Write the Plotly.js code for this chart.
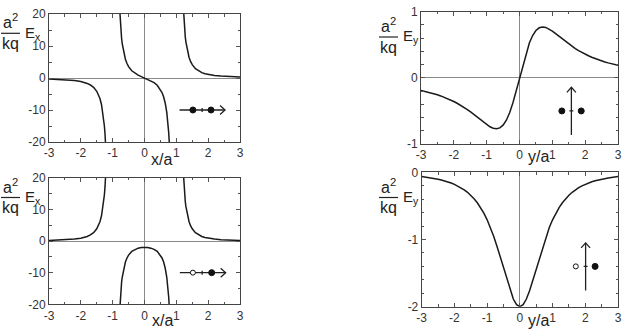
<!DOCTYPE html>
<html><head><meta charset="utf-8">
<script src="https://cdn.plot.ly/plotly-3.0.1.min.js"></script>
<style>html,body{margin:0;padding:0;background:#fff}#chart{width:633px;height:329px}</style>
</head><body><div id="chart"></div>
<script>
// ---- Top-left: two equal charges, a^2/kq * E_x along x/a ----
const tlLeftX  = [-3.0,-2.8,-2.6,-2.4,-2.2,-2.0,-1.9,-1.8,-1.7,-1.6,-1.5,-1.45,-1.4,-1.35,-1.3,-1.28,-1.26,-1.24,-1.22,-1.2];
const tlLeftE  = [-0.3125,-0.378,-0.468,-0.597,-0.792,-1.111,-1.354,-1.690,-2.178,-2.926,-4.16,-5.105,-6.424,-8.344,-11.300,-12.947,-14.989,-17.560,-20.864,-25.21];
const tlMidX   = [-0.8,-0.78,-0.76,-0.74,-0.72,-0.7,-0.65,-0.6,-0.55,-0.5,-0.4,-0.3,-0.2,-0.1,0,0.1,0.2,0.3,0.4,0.5,0.55,0.6,0.65,0.7,0.72,0.74,0.76,0.78,0.8];
const tlMidE   = [24.69,20.346,17.038,14.463,12.417,10.765,7.796,5.859,4.522,3.556,2.268,1.449,0.868,0.408,0,-0.408,-0.868,-1.449,-2.268,-3.556,-4.522,-5.859,-7.796,-10.765,-12.417,-14.463,-17.038,-20.346,-24.69];
const tlRightX = [1.2,1.22,1.24,1.26,1.28,1.3,1.35,1.4,1.45,1.5,1.6,1.7,1.8,1.9,2.0,2.2,2.4,2.6,2.8,3.0];
const tlRightE = [25.21,20.864,17.560,14.989,12.947,11.300,8.344,6.424,5.105,4.16,2.926,2.178,1.690,1.354,1.111,0.792,0.597,0.468,0.378,0.3125];

// ---- Bottom-left: opposite charges, a^2/kq * E_x along x/a ----
const blLeftX  = [-3.0,-2.8,-2.6,-2.4,-2.2,-2.0,-1.9,-1.8,-1.7,-1.6,-1.5,-1.45,-1.4,-1.35,-1.3,-1.28,-1.26,-1.24,-1.22,-1.2];
const blLeftE  = [0.1875,0.239,0.313,0.424,0.597,0.889,1.116,1.435,1.904,2.630,3.84,4.771,6.076,7.982,10.922,12.563,14.597,17.162,20.458,24.79];
const blMidX   = [-0.8,-0.78,-0.76,-0.74,-0.72,-0.7,-0.65,-0.6,-0.55,-0.5,-0.4,-0.3,-0.2,-0.1,0,0.1,0.2,0.3,0.4,0.5,0.55,0.6,0.65,0.7,0.72,0.74,0.76,0.78,0.8];
const blMidE   = [-25.31,-20.977,-17.684,-15.123,-13.093,-11.457,-8.531,-6.641,-5.355,-4.444,-3.288,-2.633,-2.257,-2.061,-2,-2.061,-2.257,-2.633,-3.288,-4.444,-5.355,-6.641,-8.531,-11.457,-13.093,-15.123,-17.684,-20.977,-25.31];
const blRightX = [1.2,1.22,1.24,1.26,1.28,1.3,1.35,1.4,1.45,1.5,1.6,1.7,1.8,1.9,2.0,2.2,2.4,2.6,2.8,3.0];
const blRightE = [24.79,20.458,17.162,14.597,12.563,10.922,7.982,6.076,4.771,3.84,2.630,1.904,1.435,1.116,0.889,0.597,0.424,0.313,0.239,0.1875];

// ---- Right panels: E_y along y/a ----
const yPos = [-3.0,-2.9,-2.8,-2.7,-2.6,-2.5,-2.4,-2.3,-2.2,-2.1,-2.0,-1.9,-1.8,-1.7,-1.6,-1.5,-1.4,-1.3,-1.2,-1.1,-1.0,-0.9,-0.8,-0.7,-0.6,-0.5,-0.4,-0.3,-0.2,-0.1,0,
  0.1,0.2,0.3,0.4,0.5,0.6,0.7,0.8,0.9,1.0,1.1,1.2,1.3,1.4,1.5,1.6,1.7,1.8,1.9,2.0,2.1,2.2,2.3,2.4,2.5,2.6,2.7,2.8,2.9,3.0];
const trE = [-0.1897,-0.2009,-0.2131,-0.2262,-0.2406,-0.2561,-0.2731,-0.2916,-0.3118,-0.3338,-0.3578,-0.3839,-0.4123,-0.4432,-0.4764,-0.5120,-0.5498,-0.5893,-0.6297,-0.6696,-0.7071,-0.7392,-0.7618,-0.7697,-0.7566,-0.7155,-0.6403,-0.5272,-0.3771,-0.1970,0,
  0.1970,0.3771,0.5272,0.6403,0.7155,0.7566,0.7697,0.7618,0.7392,0.7071,0.6696,0.6297,0.5893,0.5498,0.5120,0.4764,0.4432,0.4123,0.3839,0.3578,0.3338,0.3118,0.2916,0.2731,0.2561,0.2406,0.2262,0.2131,0.2009,0.1897];
const brE = [-0.0632,-0.0693,-0.0761,-0.0838,-0.0925,-0.1025,-0.1138,-0.1268,-0.1417,-0.1589,-0.1789,-0.2021,-0.2291,-0.2607,-0.2978,-0.3414,-0.3927,-0.4533,-0.5247,-0.6088,-0.7071,-0.8213,-0.9523,-1.0996,-1.2610,-1.4311,-1.6008,-1.7575,-1.8857,-1.9704,-2,
  -1.9704,-1.8857,-1.7575,-1.6008,-1.4311,-1.2610,-1.0996,-0.9523,-0.8213,-0.7071,-0.6088,-0.5247,-0.4533,-0.3927,-0.3414,-0.2978,-0.2607,-0.2291,-0.2021,-0.1789,-0.1589,-0.1417,-0.1268,-0.1138,-0.1025,-0.0925,-0.0838,-0.0761,-0.0693,-0.0632];

// ---- Tick labels ----
const xTickVals = [-3,-2,-1,0,1,2,3];
const xTickText = ['-3','-2','-1','0','1','2','3'];
const exTickVals = [-20,-10,0,10,20];
const exTickText = ['-20','-10','0','10','20'];
const eyTopVals = [-1,0,1];
const eyTopText = ['-1','0','1'];
const eyBotVals = [-2,-1,0];
const eyBotText = ['-2','-1','0'];

const W = 633, H = 329;
const FONT = 'Liberation Sans, Arial, Helvetica, sans-serif';
const px = v => v / W, py = v => 1 - v / H;

const lineStyle = {color: '#1a1a1a', width: 1.5};
function tr(x, y, xa, ya) {
  return {x: x, y: y, xaxis: xa, yaxis: ya, type: 'scatter', mode: 'lines', line: lineStyle, hoverinfo: 'skip', showlegend: false};
}
const data = [
  tr(tlLeftX, tlLeftE, 'x', 'y'), tr(tlMidX, tlMidE, 'x', 'y'), tr(tlRightX, tlRightE, 'x', 'y'),
  tr(yPos, trE, 'x2', 'y2'),
  tr(blLeftX, blLeftE, 'x3', 'y3'), tr(blMidX, blMidE, 'x3', 'y3'), tr(blRightX, blRightE, 'x3', 'y3'),
  tr(yPos, brE, 'x4', 'y4')
];

function axis(domain, range, tv, tt, minorDt, anchor) {
  return {
    domain: domain, range: range, anchor: anchor, fixedrange: true,
    tickmode: 'array', tickvals: tv, ticktext: tt,
    ticks: 'inside', ticklen: 4, tickwidth: 1, tickcolor: '#555',
    minor: {dtick: minorDt, ticks: 'inside', ticklen: 2.5, tickwidth: 1, tickcolor: '#555'},
    showline: true, linecolor: '#444', linewidth: 1, mirror: 'ticks',
    showgrid: false, zeroline: true, zerolinecolor: '#8a8a8a', zerolinewidth: 1,
    tickfont: {family: FONT, size: 12, color: '#333'}
  };
}

const layout = {
  width: W, height: H, autosize: false,
  margin: {l: 0, r: 0, t: 0, b: 0, pad: 0},
  paper_bgcolor: '#fff', plot_bgcolor: '#fff',
  showlegend: false,
  xaxis:  axis([px(49), px(240)], [-3, 3], xTickVals, xTickText, 0.5, 'y'),
  yaxis:  axis([py(142), py(14)], [-20, 20], exTickVals, exTickText, 5, 'x'),
  xaxis2: axis([px(421), px(618)], [-3, 3], xTickVals, xTickText, 0.5, 'y2'),
  yaxis2: axis([py(144), py(11.7)], [-1, 1], eyTopVals, eyTopText, 0.2, 'x2'),
  xaxis3: axis([px(49), px(240)], [-3, 3], xTickVals, xTickText, 0.5, 'y3'),
  yaxis3: axis([py(304.3), py(177.7)], [-20, 20], exTickVals, exTickText, 5, 'x3'),
  xaxis4: axis([px(421.7), px(618)], [-3, 3], xTickVals, xTickText, 0.5, 'y4'),
  yaxis4: axis([py(306.7), py(172.3)], [-2, 0], eyBotVals, eyBotText, 0.2, 'x4'),
  annotations: [], shapes: []
};

// axis title annotations
function ann(text, x, y, size, xanchor, yanchor) {
  layout.annotations.push({text: text, x: px(x), y: py(y), xref: 'paper', yref: 'paper',
    xanchor: xanchor || 'center', yanchor: yanchor || 'middle', showarrow: false,
    font: {family: FONT, size: size, color: '#222'}, borderpad: 0});
}
function yTitle(x0, lineY, sub) {
  ann('a<sup>2</sup>', x0 + 9.5, lineY - 1, 16, 'center', 'bottom');
  ann('kq', x0 + 9, lineY + 0.5, 16, 'center', 'top');
  layout.shapes.push({type: 'line', xref: 'paper', yref: 'paper', x0: px(x0), x1: px(x0 + 19), y0: py(lineY), y1: py(lineY), line: {color: '#222', width: 1.2}});
  ann('E<sub>' + sub + '</sub>', x0 + 22.5, lineY, 15, 'left', 'middle');
}
yTitle(1, 33.3, 'x');
yTitle(379, 37, 'y');
yTitle(1, 197.5, 'x');
yTitle(379, 197.5, 'y');
ann('x/a', 161, 159.5, 16);
ann('x/a', 162, 320.5, 16);
ann('y/a', 538.5, 156.5, 16);
ann('y/a', 538.5, 320.5, 16);

// inset symbols
function seg(xr, yr, x0, y0, x1, y1) {
  layout.shapes.push({type: 'line', xref: xr, yref: yr, x0: x0, y0: y0, x1: x1, y1: y1, line: {color: '#222', width: 1.3}});
}
function pxPath(xr, yr, xa, ya, path) {
  layout.shapes.push({type: 'path', xref: xr, yref: yr, xsizemode: 'pixel', ysizemode: 'pixel', xanchor: xa, yanchor: ya, path: path, line: {color: '#222', width: 1.3}});
}
function dot(xr, yr, xa, ya, r, filled) {
  layout.shapes.push({type: 'circle', xref: xr, yref: yr, xsizemode: 'pixel', ysizemode: 'pixel', xanchor: xa, yanchor: ya,
    x0: -r, x1: r, y0: -r, y1: r, fillcolor: filled ? '#111' : '#fff', line: {color: '#111', width: 1}});
}
// horizontal arrow (top-left)
seg('x', 'y', 1.1, -10, 2.53, -10);
pxPath('x', 'y', 2.53, -10, 'M-5,-4.5L0,0L-5,4.5');
pxPath('x', 'y', 1.81, -10, 'M0,-2L0,2');
dot('x', 'y', 1.52, -10, 3, true);
dot('x', 'y', 2.09, -10, 3, true);
// horizontal arrow (bottom-left)
seg('x3', 'y3', 1.11, -10, 2.55, -10);
pxPath('x3', 'y3', 2.55, -10, 'M-5,-4.5L0,0L-5,4.5');
pxPath('x3', 'y3', 1.81, -10, 'M0,-2L0,2');
dot('x3', 'y3', 1.52, -10, 2.5, false);
dot('x3', 'y3', 2.11, -10, 3, true);
// vertical arrow (top-right)
seg('x2', 'y2', 1.58, -0.865, 1.58, -0.143);
pxPath('x2', 'y2', 1.58, -0.143, 'M-4.5,-5L0,0L4.5,-5');
pxPath('x2', 'y2', 1.58, -0.5, 'M-2,0L2,0');
dot('x2', 'y2', 1.29, -0.5, 3, true);
dot('x2', 'y2', 1.88, -0.5, 3, true);
// vertical arrow (bottom-right)
seg('x4', 'y4', 2.01, -1.76, 2.01, -1.05);
pxPath('x4', 'y4', 2.01, -1.05, 'M-4.5,-5L0,0L4.5,-5');
pxPath('x4', 'y4', 2.01, -1.40, 'M-2,0L2,0');
dot('x4', 'y4', 1.71, -1.40, 2.5, false);
dot('x4', 'y4', 2.30, -1.40, 3, true);

Plotly.newPlot('chart', data, layout, {displayModeBar: false, staticPlot: true});
</script></body></html>
